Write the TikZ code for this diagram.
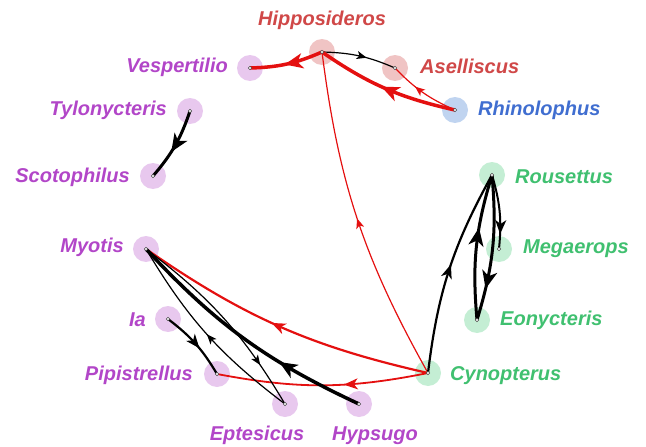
\documentclass[tikz,border=0pt]{standalone}
\usepackage{fontspec}
\setmainfont{Liberation Sans}
\usetikzlibrary{arrows.meta,decorations.markings}
\definecolor{pfill}{RGB}{232,200,238}
\definecolor{rfill}{RGB}{240,196,196}
\definecolor{bfill}{RGB}{192,212,240}
\definecolor{gfill}{RGB}{196,238,212}
\definecolor{ptext}{RGB}{178,70,200}
\definecolor{rtext}{RGB}{208,72,72}
\definecolor{btext}{RGB}{64,110,208}
\definecolor{gtext}{RGB}{64,192,112}
\definecolor{ered}{RGB}{228,16,16}
\begin{document}
\begin{tikzpicture}[x=1pt,y=-1pt,
  bat/.style={circle,minimum size=26pt,inner sep=0pt,draw=none},
  pb/.style={bat,fill=pfill},
  rb/.style={bat,fill=rfill},
  bb/.style={bat,fill=bfill},
  gb/.style={bat,fill=gfill},
  lab/.style={font=\fontsize{20}{24}\selectfont\bfseries\itshape,inner sep=0pt},
  pl/.style={lab,text=ptext},
  rl/.style={lab,text=rtext},
  bl/.style={lab,text=btext},
  gl/.style={lab,text=gtext},
  eg/.style={bend left=11},
  ma/.style 2 args={postaction={decorate,decoration={markings,mark=at position #1 with {\arrow{#2}}}}},
  AL/.tip={Stealth[length=18pt,width=15pt,inset=5pt]},
  AM/.tip={Stealth[length=14pt,width=11pt,inset=4pt]},
  AS/.tip={Stealth[length=10pt,width=8pt,inset=2.5pt]},
  dotc/.style={draw=black!70,fill=white,line width=0.6pt}
]
\useasboundingbox (0,0) rectangle (646,447);
% bat nodes
\node[rb] (hip) at (322,52) {};
\node[rb] (asel) at (395,68) {};
\node[bb] (rhino) at (455,110) {};
\node[pb] (vesp) at (250,68) {};
\node[pb] (tylo) at (190,111) {};
\node[pb] (scoto) at (153,176) {};
\node[gb] (rous) at (492,175) {};
\node[gb] (mega) at (499,249) {};
\node[gb] (eon) at (477,320) {};
\node[gb] (cyn) at (428,373) {};
\node[pb] (myo) at (146,249) {};
\node[pb] (ia) at (168,319) {};
\node[pb] (pip) at (217,374) {};
\node[pb] (ept) at (285,404) {};
\node[pb] (hyp) at (359,404) {};
% labels
\node[rl,anchor=base] (hipL) at (322,26) {Hipposideros};
\node[rl,anchor=base west] (aselL) at (420,73) {Aselliscus};
\node[bl,anchor=base west] (rhinoL) at (478,115) {Rhinolophus};
\node[pl,anchor=base east] (vespL) at (228,72) {Vespertilio};
\node[pl,anchor=base east] (tyloL) at (167,115) {Tylonycteris};
\node[pl,anchor=base east] (scotoL) at (130,182) {Scotophilus};
\node[gl,anchor=base west] (rousL) at (515,183) {Rousettus};
\node[gl,anchor=base west] (megaL) at (523,253) {Megaerops};
\node[gl,anchor=base west] (eonL) at (500,325) {Eonycteris};
\node[gl,anchor=base west] (cynL) at (450,380) {Cynopterus};
\node[pl,anchor=base east] (myoL) at (124,252) {Myotis};
\node[pl,anchor=base east] (iaL) at (146,326) {Ia};
\node[pl,anchor=base east] (pipL) at (193,380) {Pipistrellus};
\node[pl,anchor=base] (eptL) at (257,440) {Eptesicus};
\node[pl,anchor=base] (hypL) at (375,440) {Hypsugo};
% edges
\draw[ered,line width=3.5pt,eg,ma={0.53}{AL}] (hip.center) to (vesp.center);
\draw[black,line width=1.2pt,eg,ma={0.6}{AS}] (hip.center) to (asel.center);
\draw[ered,line width=3.5pt,eg,ma={0.53}{AL}] (rhino.center) to (hip.center);
\draw[ered,line width=1.2pt,eg,ma={0.63}{AS}] (rhino.center) to (asel.center);
\draw[ered,line width=1.2pt,eg,ma={0.5}{AS}] (cyn.center) to (hip.center);
\draw[ered,line width=2.2pt,eg,ma={0.53}{AM}] (cyn.center) to (myo.center);
\draw[ered,line width=1.8pt,eg,ma={0.4}{AM}] (cyn.center) to (pip.center);
\draw[black,line width=2.2pt,eg,ma={0.53}{AM}] (cyn.center) to (rous.center);
\draw[black,line width=2pt,eg,ma={0.8}{AM}] (rous.center) to (mega.center);
\draw[black,line width=3pt,eg,ma={0.78}{AL}] (rous.center) to (eon.center);
\draw[black,line width=3pt,eg,ma={0.63}{AL}] (eon.center) to (rous.center);
\draw[black,line width=3pt,eg,ma={0.6}{AL}] (tylo.center) to (scoto.center);
\draw[black,line width=2.2pt,eg,ma={0.58}{AM}] (ia.center) to (pip.center);
\draw[black,line width=3.5pt,eg,ma={0.34}{AL}] (hyp.center) to (myo.center);
\draw[black,line width=1.2pt,eg,ma={0.78}{AS}] (myo.center) to (ept.center);
\draw[black,line width=1.2pt,eg,ma={0.5}{AS}] (ept.center) to (myo.center);
% centre dots
\foreach \n in {hip,asel,rhino,vesp,tylo,scoto,rous,mega,eon,cyn,myo,ia,pip,ept,hyp}
  \path[dotc] (\n.center) circle (1.7pt);
\end{tikzpicture}
\end{document}
